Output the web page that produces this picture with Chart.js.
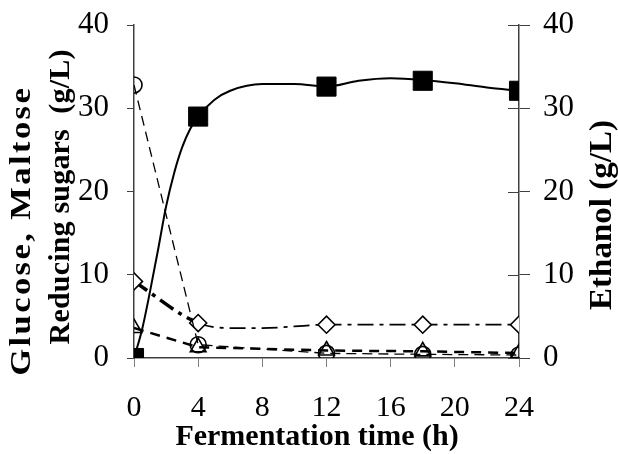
<!DOCTYPE html>
<html>
<head>
<meta charset="utf-8">
<script src="https://cdn.jsdelivr.net/npm/chart.js@4.4.0/dist/chart.umd.min.js"></script>
<style>
html,body{margin:0;padding:0;background:#fff;}
#wrap{width:618px;height:454px;position:relative;}
</style>
</head>
<body>
<div id="wrap"><canvas id="c" width="618" height="454"></canvas></div>
<script>
// ---- data ----
const times = [0, 4, 12, 18, 24];
const ethanol = [0, 29.0, 32.6, 33.3, 32.1];
const reducingSugars = [32.8, 1.6, 0.56, 0.44, 0.36];
const glucose = [9.2, 4.2, 4.0, 4.0, 4.0];
const maltose = [3.6, 1.3, 0.9, 0.8, 0.6];
// trend curves drawn through the points
const ethanolCurveTimes = [0, 0.5, 1, 1.5, 2, 2.5, 3, 3.5, 4, 5, 6, 8, 10, 12, 14, 16, 18, 20, 22, 24];
const ethanolCurve = [0, 3.4, 8, 13, 18.2, 22.2, 25.3, 27.5, 29.0, 31.0, 32.1, 32.9, 32.9, 32.6, 33.3, 33.6, 33.4, 33.0, 32.5, 32.1];
const glucoseCurveTimes = [0, 4, 6, 8, 12, 18, 24];
const glucoseCurve = [9.2, 4.2, 3.6, 3.6, 4.0, 4.0, 4.0];
// axis ticks / titles
const xTicks = [0, 4, 8, 12, 16, 20, 24];
const yTicks = [0, 10, 20, 30, 40];
const xTitle = 'Fermentation time (h)';
const yLeftTitle = ['Glucose, Maltose', 'Reducing sugars  (g/L)'];
const yRightTitle = 'Ethanol (g/L)';

const pts = (xs, ys) => xs.map((x, i) => ({x: x, y: ys[i]}));

const serif = '"Liberation Serif", "Times New Roman", serif';
const tickFontY = {family: serif, size: 31, lineHeight: 1};
const tickFontX = {family: serif, size: 30, lineHeight: 1};

function rotatedText(ctx, text, cx, cy, targetLen, stretch) {
  ctx.save();
  ctx.translate(cx, cy);
  ctx.rotate(-Math.PI / 2);
  const s = stretch || 1;
  const w0 = ctx.measureText(text).width;
  const extra = targetLen / s - w0;
  if ('letterSpacing' in ctx && text.length > 1 && extra > 0) {
    const ls = extra / text.length;
    ctx.letterSpacing = ls + 'px';
    ctx.scale(s, 1);
    ctx.fillText(text, ls / 2, 0);
  } else {
    ctx.scale(targetLen / w0, 1);
    ctx.fillText(text, 0, 0);
  }
  ctx.restore();
}

const titlePlugin = {
  id: 'titles',
  afterDraw(chart) {
    const ctx = chart.ctx;
    const ya = chart.scales.y2;
    // inner half of right-axis ticks
    ctx.save();
    ctx.strokeStyle = '#404040';
    ctx.lineWidth = 1;
    yTicks.forEach(v => {
      const py = Math.round(ya.getPixelForValue(v)) + 0.5;
      ctx.beginPath();
      ctx.moveTo(ya.left - 11, py);
      ctx.lineTo(ya.left, py);
      ctx.stroke();
    });
    ctx.restore();

    ctx.save();
    ctx.fillStyle = '#000';
    ctx.textAlign = 'center';
    ctx.textBaseline = 'middle';
    ctx.font = 'bold 30px ' + serif;
    ctx.fillText(xTitle, 317, 437);
    rotatedText(ctx, yLeftTitle[0], 22, 232, 290, 1.15);
    rotatedText(ctx, yLeftTitle[1], 61, 197, 295, 1.0);
    ctx.font = 'bold 32px ' + serif;
    rotatedText(ctx, yRightTitle, 603, 215, 190, 1.03);
    ctx.restore();
  }
};

const noPad = s => { s.paddingTop = 0; s.paddingBottom = 0; };

new Chart(document.getElementById('c'), {
  type: 'scatter',
  data: {
    datasets: [
      {
        label: 'Ethanol',
        data: pts(times, ethanol),
        yAxisID: 'y2',
        showLine: false,
        pointStyle: 'rect',
        pointRadius: 13.5,
        backgroundColor: '#000',
        borderColor: '#000',
        borderWidth: 1
      },
      {
        label: 'Reducing sugars',
        data: pts(times, reducingSugars),
        yAxisID: 'y',
        showLine: true,
        tension: 0,
        borderColor: '#000',
        borderWidth: 1.3,
        borderDash: [10, 6],
        pointStyle: 'circle',
        pointRadius: 8,
        pointBackgroundColor: 'rgba(255,255,255,0)',
        pointBorderColor: '#000',
        pointBorderWidth: 1.6
      },
      {
        label: 'Glucose markers',
        data: pts(times, glucose),
        yAxisID: 'y',
        showLine: false,
        pointStyle: 'rectRot',
        pointRadius: 8.5,
        pointBackgroundColor: '#fff',
        pointBorderColor: '#000',
        pointBorderWidth: 1.6
      },
      {
        label: 'Maltose',
        data: pts(times, maltose),
        yAxisID: 'y',
        showLine: true,
        tension: 0,
        borderColor: '#000',
        borderWidth: 2.5,
        borderDash: [10, 7],
        pointStyle: 'triangle',
        pointRadius: 9,
        pointBackgroundColor: 'rgba(255,255,255,0)',
        pointBorderColor: '#000',
        pointBorderWidth: 1.6
      },
      {
        label: 'Glucose',
        data: pts(glucoseCurveTimes, glucoseCurve),
        yAxisID: 'y',
        showLine: true,
        cubicInterpolationMode: 'monotone',
        borderColor: '#000',
        borderWidth: 1.8,
        borderDash: [16, 6, 4, 6],
        segment: {
          borderWidth: c => (c.p0.parsed.x < 4 ? 3.5 : 1.8)
        },
        pointRadius: 0
      },
      {
        label: 'Ethanol curve',
        data: pts(ethanolCurveTimes, ethanolCurve),
        yAxisID: 'y2',
        showLine: true,
        cubicInterpolationMode: 'monotone',
        borderColor: '#000',
        borderWidth: 2,
        pointRadius: 0
      }
    ]
  },
  options: {
    responsive: false,
    animation: false,
    events: [],
    layout: {padding: {top: 25, left: 0, right: 0, bottom: 0}},
    plugins: {legend: {display: false}, tooltip: {enabled: false}},
    scales: {
      x: {
        type: 'linear',
        position: 'bottom',
        min: 0, max: 24,
        afterBuildTicks: s => { s.ticks = xTicks.map(v => ({value: v})); },
        afterFit: s => { s.height = 96; },
        ticks: {color: '#000', font: tickFontX, padding: 26, maxRotation: 0, autoSkip: false},
        grid: {drawOnChartArea: false, drawTicks: true, tickLength: 9, color: '#808080', lineWidth: 1},
        border: {display: true, color: '#404040', width: 1.5}
      },
      y: {
        type: 'linear',
        position: 'left',
        min: 0, max: 40,
        afterBuildTicks: s => { s.ticks = yTicks.map(v => ({value: v})); },
        afterFit: s => { s.width = 134; noPad(s); },
        ticks: {color: '#000', font: tickFontY, padding: 18},
        grid: {drawOnChartArea: false, drawTicks: true, tickLength: 7, color: '#404040', lineWidth: 1},
        border: {display: true, color: '#404040', width: 1.5}
      },
      y2: {
        type: 'linear',
        position: 'right',
        min: 0, max: 40,
        afterBuildTicks: s => { s.ticks = yTicks.map(v => ({value: v})); },
        afterFit: s => { s.width = 99; noPad(s); },
        ticks: {color: '#000', font: tickFontY, padding: 13},
        grid: {drawOnChartArea: false, drawTicks: true, tickLength: 11, color: '#404040', lineWidth: 1},
        border: {display: true, color: '#404040', width: 1.5}
      }
    }
  },
  plugins: [titlePlugin]
});
</script>
</body>
</html>
